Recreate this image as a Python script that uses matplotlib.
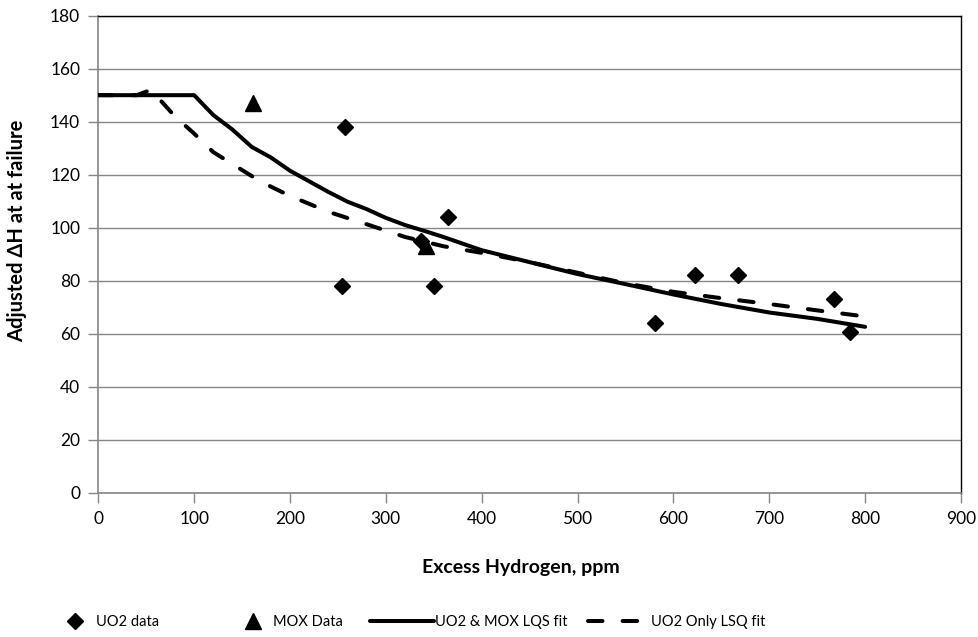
import numpy as np
import matplotlib
matplotlib.use("Agg")
import matplotlib.pyplot as plt

plt.rcParams['font.family'] = ['Lato', 'DejaVu Sans']

# measured data
uo2_x = [257, 254, 337, 350, 365, 581, 623, 667, 768, 784]
uo2_y = [138, 78, 95, 78, 104, 64, 82, 82, 73, 60.5]
mox_x = [161, 342]
mox_y = [147, 93]

# UO2 & MOX fit (solid)
fit_all_x = [0, 100, 120, 140, 160, 180, 200, 220, 240, 260, 280, 300, 320, 340,
             360, 380, 400, 450, 500, 550, 600, 650, 700, 750, 800]
fit_all_y = [150, 150, 142.5, 137, 130.5, 126.5, 121.5, 117.5, 113.5, 109.8, 107,
             103.7, 101, 98.8, 96.5, 94, 91.5, 87, 82.5, 78.7, 74.8, 71.2, 68, 65.6, 62.6]

# UO2 only fit (dashed)
fit_uo2_x = [0, 40, 55, 80, 100, 120, 140, 160, 180, 200, 240, 280, 320, 360,
             400, 450, 500, 550, 600, 650, 700, 750, 800]
fit_uo2_y = [150, 150, 152, 142, 135.5, 128.5, 124, 119.5, 115.5, 112, 106, 101.3,
             96.5, 93, 90.5, 87, 83, 79, 75.8, 73.4, 71.2, 68.8, 66.5]

fig = plt.figure(figsize=(9.79, 6.37), dpi=100)
ax = fig.add_axes([0.1004, 0.2265, 0.8812, 0.7489])

grey = '#868686'
ax.grid(axis='y', color=grey, linewidth=1)
ax.set_axisbelow(True)

ax.plot(fit_all_x, fit_all_y, color='black', linewidth=2.9, solid_joinstyle='round',
        solid_capstyle='round', label='UO2 & MOX LQS fit', zorder=3)
dashed, = ax.plot(fit_uo2_x, fit_uo2_y, color='black', linewidth=2.9,
                  dash_capstyle='round', label='UO2 Only LSQ fit', zorder=3)
dashed.set_dashes([3.6, 5.0])
ax.plot(uo2_x, uo2_y, linestyle='none', marker='D', markersize=8.5, color='black',
        label='UO2 data', zorder=4)
ax.plot(mox_x, mox_y, linestyle='none', marker='^', markersize=12, color='black',
        label='MOX Data', zorder=4)

ax.set_xlim(0, 900)
ax.set_ylim(0, 180)
ax.set_xticks(np.arange(0, 901, 100))
ax.set_yticks(np.arange(0, 181, 20))
ax.tick_params(axis='both', direction='out', length=7, width=1, color=grey,
               labelsize=12.5, pad=6)

for s in ['left', 'bottom']:
    ax.spines[s].set_color(grey)
    ax.spines[s].set_linewidth(1.2)
for s in ['top', 'right']:
    ax.spines[s].set_color('black')
    ax.spines[s].set_linewidth(1)

ax.set_xlabel('Excess Hydrogen, ppm', fontsize=14, fontweight='bold')
ax.set_ylabel('Adjusted \u0394H at at failure', fontsize=14.5, fontweight='bold')
ax.xaxis.set_label_coords(0.49, -0.138)
ax.yaxis.set_label_coords(-0.082, 0.55)

# legend entries, laid out like the spreadsheet legend
h, l = ax.get_legend_handles_labels()
order = {lab: hd for hd, lab in zip(h, l)}
entries = [('UO2 data', 0.068, 1.2, 0.83),
           ('MOX Data', 0.25, 1.2, 0.76),
           ('UO2 & MOX LQS fit', 0.378, 4.4, 0.05),
           ('UO2 Only LSQ fit', 0.6006, 4.2, 0.1)]
for lab, xpos, hl, pad in entries:
    fig.legend([order[lab]], [lab], loc='center left', bbox_to_anchor=(xpos, 0.024),
               frameon=False, fontsize=10.5, handlelength=hl, handletextpad=pad,
               borderpad=0, borderaxespad=0)

fig.savefig('out.png', dpi=100)
